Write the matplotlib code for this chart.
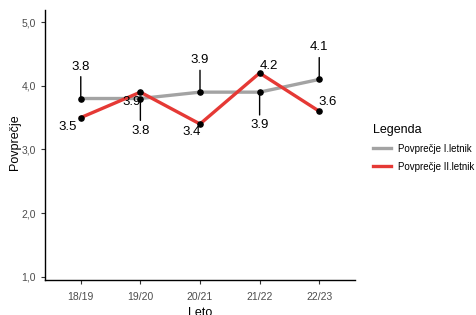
import matplotlib
matplotlib.use("Agg")
import matplotlib.pyplot as plt

plt.rcParams["font.family"] = ["Liberation Sans", "DejaVu Sans"]

leta = ["18/19", "19/20", "20/21", "21/22", "22/23"]
povp_1 = [3.8, 3.8, 3.9, 3.9, 4.1]   # I. letnik
povp_2 = [3.5, 3.9, 3.4, 4.2, 3.6]   # II. letnik

# odmiki oznak (v pikslih) od tock
odm_1 = [(0, 32), (0, -32), (0, 32), (0, -33), (0, 32)]
odm_2 = [(-13, -9), (-9, -10), (-8, -8), (9, 7), (8, 9)]

SIVA = "#A3A3A3"
RDECA = "#E53935"

fig = plt.figure(figsize=(4.76, 3.15), dpi=100)
ax = fig.add_axes([45/476, 35/315, 310/476, 270/315])

x = list(range(len(leta)))
ax.plot(x, povp_1, color=SIVA, lw=2.4, label="Povprečje I.letnik", zorder=2)
ax.plot(x, povp_2, color=RDECA, lw=2.4, label="Povprečje II.letnik", zorder=2)
ax.scatter(x, povp_1, s=14, color="black", zorder=3)
ax.scatter(x, povp_2, s=14, color="black", zorder=3)

for xi, v, (dx, dy) in zip(x, povp_1, odm_1):
    ax.annotate(f"{v:.1f}", (xi, v), xytext=(dx, dy), textcoords="offset pixels",
                ha="center", va="center", fontsize=9.5, color="black",
                arrowprops=dict(arrowstyle="-", color="black", lw=1.0,
                                shrinkA=1, shrinkB=0))
for xi, v, (dx, dy) in zip(x, povp_2, odm_2):
    ax.annotate(f"{v:.1f}", (xi, v), xytext=(dx, dy), textcoords="offset pixels",
                ha="center", va="center", fontsize=9.5, color="black")

ax.set_xlim(-0.6, 4.6)
ax.set_ylim(0.95, 5.19)
ax.set_xticks(x)
ax.set_xticklabels(leta)
ax.set_yticks([1, 2, 3, 4, 5])
ax.set_yticklabels(["1,0", "2,0", "3,0", "4,0", "5,0"])
ax.tick_params(labelsize=7.5, labelcolor="#4D4D4D", color="#333333", length=3, width=0.8)
ax.tick_params(axis="x", pad=6)
for s in ["top", "right"]:
    ax.spines[s].set_visible(False)
for s in ["left", "bottom"]:
    ax.spines[s].set_linewidth(1.0)
    ax.spines[s].set_color("black")

ax.set_ylabel("Povprečje", fontsize=9)
ax.yaxis.set_label_coords(-0.076, 0.51)
ax.set_xlabel("Leto", fontsize=9)
ax.xaxis.set_label_coords(0.5, -0.1)

leg = ax.legend(title="Legenda", loc="upper left", bbox_to_anchor=(1.03, 0.61),
                frameon=False, fontsize=7, title_fontsize=9,
                handlelength=1.8, handletextpad=0.8, labelspacing=0.8)
leg._legend_box.align = "left"

fig.savefig("out.png", dpi=100)
